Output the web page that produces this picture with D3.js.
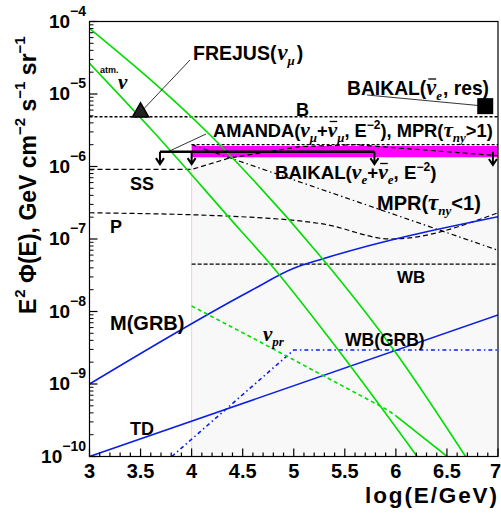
<!DOCTYPE html>
<html><head><meta charset="utf-8">
<script src="https://cdn.jsdelivr.net/npm/d3@7"></script>
<style>
body{margin:0;background:#fff}
svg{display:block}
text{font-family:"Liberation Sans",Arial,Helvetica,sans-serif;fill:#000;font-weight:bold}
</style>
</head><body>
<svg id="c" width="501" height="518"></svg>
<script>
// ---------- data (x = log10(E/GeV), y = E^2 Phi in GeV cm^-2 s^-1 sr^-1) ----------
const xDomain = [3, 7];
const yDomain = [1e-10, 1e-4];
const xTickValues = [3, 3.5, 4, 4.5, 5, 5.5, 6, 6.5, 7];
const xTickLabels = ["3", "3.5", "4", "4.5", "5", "5.5", "6", "6.5", "7"];
const yDecadeExps = [-10, -9, -8, -7, -6, -5, -4];

// atmospheric neutrinos (two green curves)
const atmUpperX = [3, 4.181, 4.574, 5.277, 5.980, 6.682];
const atmUpperY = [8.05e-5, 2.72e-6, 7.23e-7, 5.41e-8, 2.94e-9, 1.0e-10];
const atmLowerX = [3, 3.610, 4.475, 4.737, 5.436, 6.208];
const atmLowerY = [2.65e-5, 3.18e-6, 1.33e-7, 5.13e-8, 2.94e-9, 1.0e-10];
// prompt neutrinos
const promptDashX = [4.0, 4.574, 5.919, 6.0];
const promptDashY = [1.19e-8, 4.49e-9, 4.38e-10, 3.63e-10];
const promptSolidX = [6.0, 6.502];
const promptSolidY = [3.63e-10, 1.0e-10];
// blue models
const mgrbX = [3, 4.574, 5.0, 5.28, 7.0];
const mgrbY = [1.0e-9, 1.92e-8, 3.94e-8, 5.30e-8, 2.03e-7];
const tdX = [3, 7];
const tdY = [1.0e-10, 8.95e-9];
const wbgrbX = [3.806, 5.0, 7.0];
const wbgrbY = [1.0e-10, 2.94e-9, 2.94e-9];
// black model curves
const bX = [3, 7];
const bY = [4.85e-6, 4.85e-6];
const ssX = [3, 4.0, 4.37, 5.06, 5.6, 6.37, 7.0];
const ssY = [9.1e-7, 9.1e-7, 1.31e-6, 1.88e-6, 2.0e-6, 1.65e-6, 1.41e-6];
const pX = [3, 4.57, 5.3, 5.95, 7.0];
const pY = [2.3e-7, 2.0e-7, 1.6e-7, 1.0e-7, 2.3e-7];
const wbX = [4, 7];
const wbY = [4.5e-8, 4.5e-8];
const mprHighX = [4, 7];
const mprHighY = [2.0e-6, 2.0e-6];
const mprLowX = [4, 7];
const mprLowY = [2.0e-6, 7.0e-8];
// experimental limits
const bandX = [4, 7];
const bandY = [1.34e-6, 1.92e-6];
const amandaX = [3.69, 5.79];
const amandaY = 1.6e-6;
const amandaArrowX = [3.69, 4.0, 5.79];
const arrowEndY = 1.08e-6;
const baikalArrowX = 6.95;
const baikalArrowY = [1.6e-6, 1.05e-6];
const frejusPoint = [3.5, 5.6e-6];
const baikalResPoint = [6.875, 6.8e-6];
const shadeX = [4, 7];
const shadeY = [1e-10, 1.34e-6];

// ---------- drawing ----------
const svg = d3.select("#c");
const x = d3.scaleLinear().domain(xDomain).range([89.5, 498]);
const y = d3.scaleLog().domain(yDomain).range([456.5, 21.5]);
const pts = (xs, ys) => xs.map((v, i) => [v, ys[i]]);
const line = d3.line().x(d => x(d[0])).y(d => y(d[1]));
const smooth = d3.line().x(d => x(d[0])).y(d => y(d[1])).curve(d3.curveMonotoneX);

svg.append("defs").append("clipPath").attr("id", "clip")
  .append("rect").attr("x", x(3)).attr("y", y(1e-4)).attr("width", x(7) - x(3)).attr("height", y(1e-10) - y(1e-4));
const g = svg.append("g").attr("clip-path", "url(#clip)");

// shaded region
g.append("rect").attr("x", x(shadeX[0])).attr("y", y(shadeY[1]))
  .attr("width", x(shadeX[1]) - x(shadeX[0])).attr("height", y(shadeY[0]) - y(shadeY[1]))
  .attr("fill", "#f8f8f8");
g.append("line").attr("x1", x(shadeX[0])).attr("x2", x(shadeX[0]))
  .attr("y1", y(shadeY[0])).attr("y2", y(shadeY[1]))
  .attr("stroke", "#f2c8f2").attr("stroke-width", 1);

// magenta band
g.append("rect").attr("x", x(bandX[0])).attr("y", y(bandY[1]))
  .attr("width", x(bandX[1]) - x(bandX[0])).attr("height", y(bandY[0]) - y(bandY[1]))
  .attr("fill", "#ff00ff");

function path(data, gen, color, width, dash) {
  const p = g.append("path").attr("d", gen(data)).attr("fill", "none")
    .attr("stroke", color).attr("stroke-width", width);
  if (dash) p.attr("stroke-dasharray", dash);
  return p;
}

// black model lines
path(pts(bX, bY), line, "#000", 1.5, "3,2");
path(pts(ssX, ssY), line, "#000", 1.2, "5,3");
path(pts(pX, pY), smooth, "#000", 1.2, "5,3");
path(pts(wbX, wbY), line, "#000", 1.2, "4,2");
path(pts(mprHighX, mprHighY), line, "#000", 1.2, "3,2");
path(pts(mprLowX, mprLowY), line, "#000", 1.2, "5,3,1.5,3");

// blue
path(pts(mgrbX, mgrbY), smooth, "#0a1ee6", 1.6);
path(pts(tdX, tdY), line, "#0a1ee6", 1.6);
path(pts(wbgrbX, wbgrbY), line, "#0a1ee6", 1.6, "4,3,1.5,3");

// green
path(pts(atmUpperX, atmUpperY), smooth, "#00dd00", 1.6);
path(pts(atmLowerX, atmLowerY), smooth, "#00dd00", 1.6);
path(pts(promptDashX, promptDashY), line, "#00dd00", 1.6, "4,3");
path(pts(promptSolidX, promptSolidY), line, "#00dd00", 1.6);

// AMANDA limit
g.append("line").attr("x1", x(amandaX[0])).attr("x2", x(amandaX[1]))
  .attr("y1", y(amandaY)).attr("y2", y(amandaY)).attr("stroke", "#000").attr("stroke-width", 2.6);
function downArrow(xv, y0, y1) {
  const X = x(xv), Y0 = y(y0), Y1 = y(y1);
  g.append("path").attr("d", `M${X},${Y0}L${X},${Y1}M${X - 4},${Y1 - 6}L${X},${Y1}L${X + 4},${Y1 - 6}`)
    .attr("fill", "none").attr("stroke", "#000").attr("stroke-width", 2);
}
amandaArrowX.forEach(v => downArrow(v, amandaY, arrowEndY));
downArrow(baikalArrowX, baikalArrowY[0], baikalArrowY[1]);

// pointer lines
svg.append("line").attr("x1", 206).attr("y1", 134).attr("x2", x(3.77)).attr("y2", y(amandaY))
  .attr("stroke", "#000").attr("stroke-width", 0.8);
svg.append("line").attr("x1", 190).attr("y1", 60).attr("x2", x(frejusPoint[0])).attr("y2", y(frejusPoint[1]))
  .attr("stroke", "#000").attr("stroke-width", 0.8);
svg.append("line").attr("x1", 367).attr("y1", 95).attr("x2", x(baikalResPoint[0])).attr("y2", y(baikalResPoint[1]))
  .attr("stroke", "#000").attr("stroke-width", 0.8);

// markers
const fx = x(frejusPoint[0]), fy = y(frejusPoint[1]);
svg.append("path").attr("d", d3.symbol(d3.symbolTriangle, 115)()).attr("transform", `translate(${fx},${fy})`)
  .attr("fill", "#222").attr("stroke", "#000").attr("stroke-width", 1.5);
const bx = x(baikalResPoint[0]), by = y(baikalResPoint[1]);
svg.append("rect").attr("x", bx - 8).attr("y", by - 8).attr("width", 16).attr("height", 16).attr("fill", "#000");

// frame
svg.append("rect").attr("x", x(3)).attr("y", y(1e-4)).attr("width", x(7) - x(3)).attr("height", y(1e-10) - y(1e-4))
  .attr("fill", "none").attr("stroke", "#000").attr("stroke-width", 1.2);

// x ticks
const xMinor = d3.range(3, 7.001, 0.1);
const axB = y(1e-10);
xMinor.forEach(v => {
  const major = Math.abs(v * 2 - Math.round(v * 2)) < 1e-6;
  svg.append("line").attr("x1", x(v)).attr("x2", x(v)).attr("y1", axB).attr("y2", axB - (major ? 8 : 4))
    .attr("stroke", "#000").attr("stroke-width", 1.2);
});
xTickValues.forEach((v, i) => {
  const last = i === xTickValues.length - 1;
  svg.append("text").attr("x", last ? 501 : x(v)).attr("y", 478).attr("text-anchor", last ? "end" : "middle")
    .attr("font-size", 20).text(xTickLabels[i]);
});
// y ticks
yDecadeExps.forEach(e => {
  svg.append("line").attr("x1", x(3)).attr("x2", x(3) + 8).attr("y1", y(Math.pow(10, e))).attr("y2", y(Math.pow(10, e)))
    .attr("stroke", "#000").attr("stroke-width", 1.2);
  if (e < -4) for (let k = 2; k <= 9; k++) {
    const v = k * Math.pow(10, e);
    svg.append("line").attr("x1", x(3)).attr("x2", x(3) + 4).attr("y1", y(v)).attr("y2", y(v))
      .attr("stroke", "#000").attr("stroke-width", 1);
  }
  const t = svg.append("text").attr("x", 86).attr("y", y(Math.pow(10, e)) + 6).attr("text-anchor", "end");
  t.append("tspan").attr("font-size", 19).text("10");
  t.append("tspan").attr("font-size", 14).attr("dy", -12).text("\u2212" + (-e));
});

// axis titles
svg.append("text").attr("x", 497).attr("y", 503).attr("text-anchor", "end").attr("font-size", 22.5)
  .attr("textLength", 132).attr("lengthAdjust", "spacing").text("log(E/GeV)");
const yt = svg.append("text").attr("transform", "translate(36,314) rotate(-90)").attr("font-size", 23);
yt.append("tspan").text("E");
yt.append("tspan").attr("font-size", 15).attr("dy", -11).attr("dx", 1).text("2");
yt.append("tspan").attr("dy", 11).text(" \u03A6(E), GeV cm");
yt.append("tspan").attr("font-size", 15).attr("dy", -11).text("\u22122");
yt.append("tspan").attr("dy", 11).text(" s");
yt.append("tspan").attr("font-size", 15).attr("dy", -11).text("\u22121");
yt.append("tspan").attr("dy", 11).text(" sr");
yt.append("tspan").attr("font-size", 15).attr("dy", -11).text("\u22121");

// rich labels
const SERIF = "'Liberation Serif','Times New Roman',serif";
function label(px, py, parts, size) {
  size = size || 18;
  const t = svg.append("text").attr("x", px).attr("y", py).attr("font-size", size);
  let shift = 0, idx = 0;
  const bars = [];
  parts.forEach(p => {
    if (typeof p === "string") p = { t: p };
    const s = t.append("tspan").text(p.t);
    let target = 0;
    if (p.sub) target = 5; else if (p.sup) target = -8;
    if (target !== shift) { s.attr("dy", target - shift); shift = target; }
    if (p.g) s.attr("font-family", SERIF).attr("font-style", "italic").attr("font-size", size + 3);
    if (p.sub || p.sup) s.attr("font-size", 12);
    if (p.sub && p.g) s.attr("font-size", 13);
    if (p.dx) s.attr("dx", p.dx);
    if (p.bar) bars.push(idx);
    idx += p.t.length;
  });
  bars.forEach(i => {
    const r = t.node().getExtentOfChar(i);
    svg.append("line").attr("x1", r.x + 2).attr("x2", r.x + r.width).attr("y1", r.y + 4).attr("y2", r.y + 4)
      .attr("stroke", "#000").attr("stroke-width", 1.3);
  });
  return t;
}
const NU = "\u03BD", MU = "\u03BC", TAU = "\u03C4";
label(193, 60, ["FREJUS(", { t: NU, g: 1, dx: 1 }, { t: MU, g: 1, sub: 1 }, { t: ")", dx: 2 }], 19.5);
label(100, 73, ["atm."], 9);
label(118, 89, [{ t: NU, g: 1 }], 18);
label(347, 95, ["BAIKAL(", { t: NU, g: 1, bar: 1 }, { t: "e", g: 1, sub: 1 }, { t: ", res)", dx: 1 }], 19.3);
label(296, 116, ["B"]);
label(213, 136.5, ["AMANDA(", { t: NU, g: 1 }, { t: MU, g: 1, sub: 1 }, { t: "+" }, { t: NU, g: 1, bar: 1 }, { t: MU, g: 1, sub: 1 },
  { t: ", E" }, { t: "\u22122", sup: 1 }, { t: "), MPR(" }, { t: TAU, g: 1 }, { t: "ny", g: 1, sub: 1 }, { t: ">1)" }], 18.3);
label(275, 178.5, ["BAIKAL(", { t: NU, g: 1 }, { t: "e", g: 1, sub: 1 }, { t: "+" }, { t: NU, g: 1, bar: 1 }, { t: "e", g: 1, sub: 1 },
  { t: ", E" }, { t: "\u22122", sup: 1 }, { t: ")" }], 18.7);
label(377, 210, ["MPR(", { t: TAU, g: 1 }, { t: "ny", g: 1, sub: 1 }, { t: "<1)" }], 20);
label(130, 190, ["SS"]);
label(110, 233, ["P"]);
label(397, 283, ["WB"], 17);
label(110, 330, ["M(GRB)"], 20);
label(345, 346, ["WB(GRB)"], 17.5);
label(130, 435, ["TD"]);
label(263, 341, [{ t: NU, g: 1 }, { t: "pr", g: 1, sub: 1 }]);
</script>
</body></html>
